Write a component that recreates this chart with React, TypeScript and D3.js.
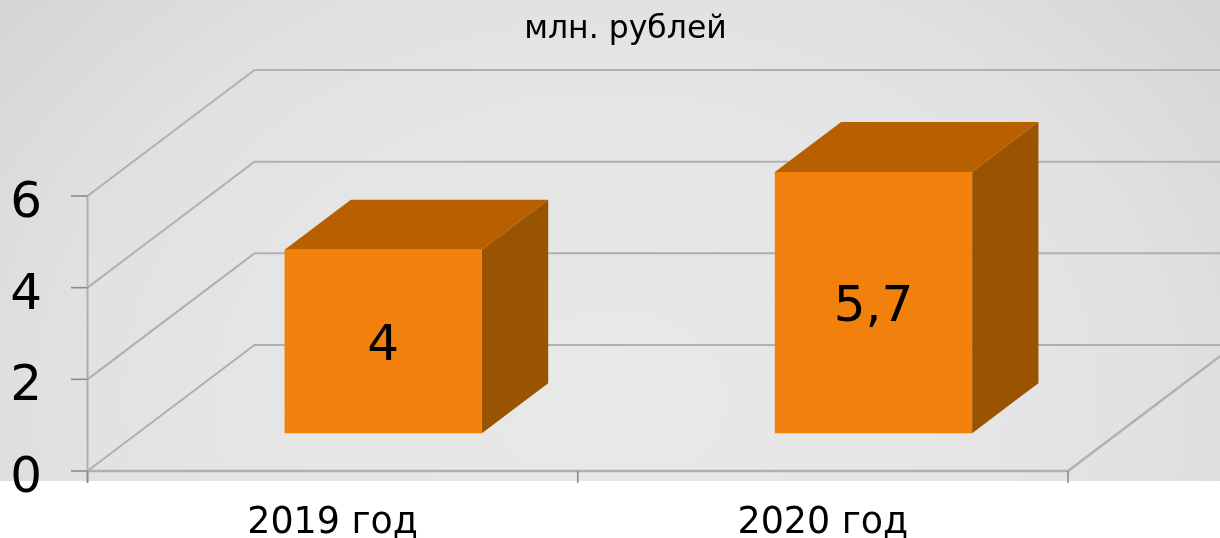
import * as d3 from "d3";

const categories = ["2019 год", "2020 год"];
const values = [4, 5.7];
const valueLabels = ["4", "5,7"];
const yTicks = [0, 2, 4, 6];
const title = "млн. рублей";

const WIDTH = 1220;
const HEIGHT = 538;
const FONT = "'DejaVu Sans', Verdana, sans-serif";

// oblique 3d: how far the back wall is shifted from the front plane
const DEPTH_X = 167;
const DEPTH_Y = -126;
const BAR_FRONT = 0.3;
const BAR_BACK = 0.697;

const x = d3.scaleBand().domain(categories).range([87.5, 1068]).paddingInner(0).paddingOuter(0);
const y = d3.scaleLinear().domain([0, 6]).range([471, 196]);
const barW = 197.3;

// project a point (screen x, value, depth 0..1)
const pt = (px: number, v: number, z: number): [number, number] => [
  px + DEPTH_X * z,
  y(v) + DEPTH_Y * z,
];

const poly = (pts: [number, number][]) => d3.line()(pts) + "Z";
const seg = (pts: [number, number][]) => d3.line()(pts) as string;

const GRID = "#b0b0b0";
const TICK = "#8c8c8c";

export default function App() {
  const x0 = x.range()[0];
  const x1 = x.range()[1];
  const catEdges = [x0, ...categories.map((c) => (x(c) as number) + x.bandwidth())];

  return (
    <svg
      width={WIDTH}
      height={HEIGHT}
      viewBox={`0 0 ${WIDTH} ${HEIGHT}`}
      style={{ position: "absolute", left: 0, top: 0, fontFamily: FONT }}
    >
      <defs>
        {/* horizontal falloff is stronger than the vertical one */}
        <radialGradient id="bg" gradientUnits="userSpaceOnUse" cx="0" cy="0" r="1" gradientTransform="translate(610 400) scale(770 600)">
          <stop offset="0%" stopColor="#e8e8e8" />
          <stop offset="50%" stopColor="#e5e5e5" />
          <stop offset="75%" stopColor="#e0e0e0" />
          <stop offset="100%" stopColor="#d6d6d6" />
        </radialGradient>
        {/* the source looks like an upscaled raster, everything is a little soft */}
        <filter id="soft" x="0" y="0" width="100%" height="100%" filterUnits="userSpaceOnUse">
          <feGaussianBlur stdDeviation="0.45" />
        </filter>
      </defs>
      <rect width={WIDTH} height={HEIGHT} fill="#fff" />
      <rect width={WIDTH} height={481} fill="url(#bg)" />

      <g filter="url(#soft)">
        {/* grid: wall lines + side lines */}
        {yTicks.map((t) => (
          <path
            key={t}
            d={seg([pt(x0, t, 0), pt(x0, t, 1), pt(x1 + 200, t, 1)])}
            fill="none"
            stroke={GRID}
            strokeWidth={2}
          />
        ))}
        <path d={seg([pt(x0, 0, 0), pt(x1, 0, 0), pt(x1, 0, 1)])} fill="none" stroke={GRID} strokeWidth={2.4} />

        {/* axes */}
        <path d={`M${x0},${y(6)}V483`} fill="none" stroke={GRID} strokeWidth={2} />
        {yTicks.map((t) => (
          <path key={t} d={`M71,${y(t)}H${x0}`} stroke={TICK} strokeWidth={1.6} />
        ))}
        {catEdges.map((e) => (
          <path key={e} d={`M${e},471V483`} stroke={TICK} strokeWidth={1.6} />
        ))}

        {yTicks.map((t) => (
          <text key={t} x={42} y={y(t) + 21} textAnchor="end" fontSize={50} fill="#000">
            {t}
          </text>
        ))}

        {/* bars */}
        {categories.map((c, i) => {
          const cx = (x(c) as number) + x.bandwidth() / 2 + 0.5;
          const l = cx - barW / 2;
          const r = cx + barW / 2;
          const v = values[i];
          const front = pt(cx, v / 2, BAR_FRONT);
          return (
            <g key={c}>
              <path
                d={poly([pt(l, v, BAR_FRONT), pt(r, v, BAR_FRONT), pt(r, v, BAR_BACK), pt(l, v, BAR_BACK)])}
                fill="#b86103"
              />
              <path
                d={poly([pt(r, 0, BAR_FRONT), pt(r, v, BAR_FRONT), pt(r, v, BAR_BACK), pt(r, 0, BAR_BACK)])}
                fill="#9a5204"
              />
              <path
                d={poly([pt(l, 0, BAR_FRONT), pt(r, 0, BAR_FRONT), pt(r, v, BAR_FRONT), pt(l, v, BAR_FRONT)])}
                fill="#f28009"
              />
              <text x={front[0]} y={front[1] + 18} textAnchor="middle" fontSize={50} fill="#000">
                {valueLabels[i]}
              </text>
              <text x={cx - 0.5} y={533} textAnchor="middle" fontSize={36.4} fill="#000">
                {c}
              </text>
            </g>
          );
        })}

        <text x={625.5} y={38} textAnchor="middle" fontSize={31.5} fill="#000">
          {title}
        </text>
      </g>
    </svg>
  );
}
